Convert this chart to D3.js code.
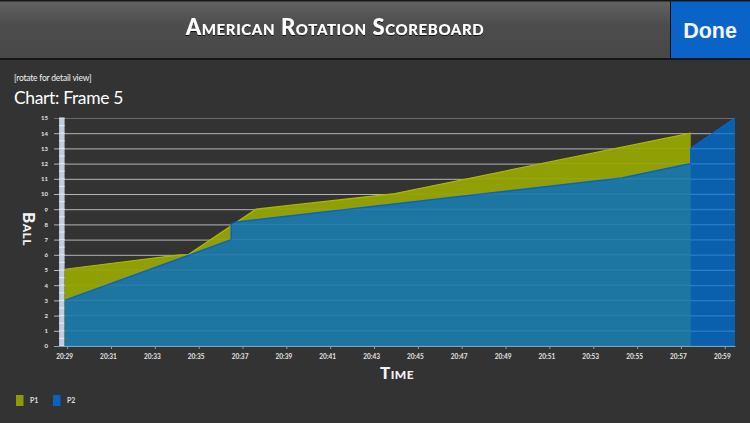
<!DOCTYPE html>
<html>
<head>
<meta charset="utf-8">
<script src="https://cdnjs.cloudflare.com/ajax/libs/d3/7.8.5/d3.min.js"></script>
<style>
    html, body { margin: 0; padding: 0; background: #333333; overflow: hidden; }
    svg { display: block; }
    text { font-family: Lato, sans-serif; fill: #f2f2f2; }
    .caps { font-variant: small-caps; font-weight: 900; }
</style>
</head>
<body>
<div id="wrapper"></div>
<script>
// data
const p1Times = ["20:28:53", "20:34:09", "20:34:31", "20:37:37", "20:43:57", "20:57:27"]
const p1Balls = [5.05, 6, 6, 9, 10.03, 14]

const p2Times = ["20:28:53", "20:34:37", "20:36:29", "20:36:29", "20:36:40", "20:54:18", "20:57:27", "20:57:27", "20:59:28"]
const p2Balls = [3, 6, 7, 8, 8.15, 11.05, 12, 13, 15]

const tickTimes = ["20:29", "20:31", "20:33", "20:35", "20:37", "20:39", "20:41", "20:43", "20:45",
    "20:47", "20:49", "20:51", "20:53", "20:55", "20:57", "20:59"]
const ballTicks = [0, 1, 2, 3, 4, 5, 6, 7, 8, 9, 10, 11, 12, 13, 14, 15]
const halfBalls = [0.5, 1.5, 2.5, 3.5, 4.5, 5.5, 6.5, 7.5, 8.5, 9.5, 10.5, 11.5, 12.5, 13.5, 14.5]
const timeDomain = ["20:28:24", "20:59:28"]
const stripTimes = ["20:28:38", "20:28:53"]
const players = ["P1", "P2"]

const parseTime = d3.timeParse("%H:%M:%S")
const zip = (times, balls) => times.map((t, i) => ({ time: parseTime(t), ball: balls[i] }))

const p1Data = zip(p1Times, p1Balls)
const p2Data = zip(p2Times, p2Balls)

const dimensions = {
    width: 750,
    height: 423,
    margin: { top: 118, right: 15, bottom: 77, left: 54 },
}
dimensions.boundedWidth = dimensions.width - dimensions.margin.left - dimensions.margin.right
dimensions.boundedHeight = dimensions.height - dimensions.margin.top - dimensions.margin.bottom

const wrapper = d3.select("#wrapper")
    .append("svg")
    .attr("width", dimensions.width)
    .attr("height", dimensions.height)

/* header */
const defs = wrapper.append("defs")
const headerGradient = defs.append("linearGradient")
    .attr("id", "headerGradient")
    .attr("x1", 0).attr("x2", 0).attr("y1", 0).attr("y2", 1)
headerGradient.append("stop").attr("offset", "0").attr("stop-color", "#626262")
headerGradient.append("stop").attr("offset", "0.4").attr("stop-color", "#4d4d4d")
headerGradient.append("stop").attr("offset", "1").attr("stop-color", "#484848")

const shadow = defs.append("filter").attr("id", "titleShadow")
shadow.append("feDropShadow")
    .attr("dx", 0).attr("dy", 1).attr("stdDeviation", 0.6)
    .attr("flood-color", "#000").attr("flood-opacity", 0.8)

wrapper.append("rect")
    .attr("width", 750).attr("height", 60)
    .attr("fill", "#161616")
wrapper.append("rect")
    .attr("x", 0).attr("y", 1.5)
    .attr("width", 670).attr("height", 56.5)
    .attr("fill", "url(#headerGradient)")
wrapper.append("rect")
    .attr("x", 671).attr("y", 1.5)
    .attr("width", 79).attr("height", 56.5)
    .attr("fill", "#0a64c8")

wrapper.append("text")
    .attr("class", "caps")
    .attr("x", 335).attr("y", 35)
    .attr("text-anchor", "middle")
    .attr("filter", "url(#titleShadow)")
    .style("font-size", "22px")
    .style("letter-spacing", "0.6px")
    .style("fill", "#ffffff")
    .text("American Rotation Scoreboard")

wrapper.append("text")
    .attr("x", 710).attr("y", 38)
    .attr("text-anchor", "middle")
    .style("font-family", "'Liberation Sans', sans-serif")
    .style("font-weight", 700)
    .style("font-size", "21.5px")
    .style("fill", "#f4f6fa")
    .text("Done")

wrapper.append("text")
    .attr("x", 14).attr("y", 81)
    .style("font-size", "8.5px")
    .style("letter-spacing", "-0.2px")
    .text("[rotate for detail view]")

wrapper.append("text")
    .attr("x", 14).attr("y", 104)
    .style("font-size", "17.5px")
    .style("letter-spacing", "-0.35px")
    .style("fill", "#ffffff")
    .text("Chart: Frame 5")

/* scales */
const bounds = wrapper.append("g")
    .attr("transform", `translate(${dimensions.margin.left}, ${dimensions.margin.top})`)

const xScale = d3.scaleTime()
    .domain(timeDomain.map(parseTime))
    .range([0, dimensions.boundedWidth])

const yScale = d3.scaleLinear()
    .domain([0, 15])
    .range([dimensions.boundedHeight, 0])

/* grid and y labels */
const yAxisGenerator = d3.axisLeft(yScale)
    .tickValues(ballTicks)
    .tickFormat(d3.format("d"))
    .tickSizeInner(-dimensions.boundedWidth)
    .tickSizeOuter(0)
    .tickPadding(6)

const yAxis = bounds.append("g").call(yAxisGenerator)
yAxis.select(".domain").remove()
yAxis.selectAll("line")
    .attr("stroke", d => d == 15 ? "#6a6a6a" : "#b4b4b4")
    .attr("stroke-width", 1)
yAxis.selectAll("text")
    .style("font-size", "6px")
    .style("font-weight", 700)
    .style("font-family", "Lato, sans-serif")
    .style("fill", "#e4e4e4")

/* strip on the left of the areas */
bounds.append("rect")
    .attr("x", xScale(parseTime(stripTimes[0])))
    .attr("y", yScale(15))
    .attr("width", xScale(parseTime(stripTimes[1])) - xScale(parseTime(stripTimes[0])))
    .attr("height", yScale(0) - yScale(15))
    .attr("fill", "#c2cee0")

bounds.selectAll(".stripMark")
    .data(ballTicks.concat(halfBalls))
    .enter().append("line")
    .attr("class", "stripMark")
    .attr("x1", xScale(parseTime(stripTimes[0])))
    .attr("x2", xScale(parseTime(stripTimes[1])))
    .attr("y1", d => yScale(d))
    .attr("y2", d => yScale(d))
    .attr("stroke", "#e6ebf3")

/* areas */
const areaGenerator = d3.area()
    .x(d => xScale(d.time))
    .y0(yScale(0))
    .y1(d => yScale(d.ball))

const lineGenerator = d3.line()
    .x(d => xScale(d.time))
    .y(d => yScale(d.ball))

bounds.append("path")
    .attr("d", areaGenerator(p1Data))
    .attr("fill", "#8f9f04")
bounds.append("path")
    .attr("d", lineGenerator(p1Data))
    .attr("fill", "none")
    .attr("stroke", "#a9b800")
    .attr("stroke-width", 1.2)

bounds.append("path")
    .attr("d", areaGenerator(p2Data))
    .attr("fill", "#006bcb")
    .attr("fill-opacity", 0.8)
bounds.append("path")
    .attr("d", lineGenerator(p2Data))
    .attr("fill", "none")
    .attr("stroke", "#0a62c4")
    .attr("stroke-width", 1.5)

/* the grid shows faintly through the areas */
const clip = defs.append("clipPath").attr("id", "areaClip")
clip.append("path").attr("d", areaGenerator(p1Data))
clip.append("path").attr("d", areaGenerator(p2Data))

bounds.append("g")
    .attr("clip-path", "url(#areaClip)")
    .selectAll("line")
    .data(ballTicks)
    .enter().append("line")
    .attr("x1", 0)
    .attr("x2", dimensions.boundedWidth)
    .attr("y1", d => yScale(d))
    .attr("y2", d => yScale(d))
    .attr("stroke", "#ffffff")
    .attr("stroke-opacity", 0.08)

/* x axis */
const xAxisGenerator = d3.axisBottom(xScale)
    .tickValues(tickTimes.map(t => parseTime(t + ":00")))
    .tickFormat(d3.timeFormat("%H:%M"))
    .tickSizeInner(3)
    .tickSizeOuter(0)
    .tickPadding(5)

const xAxis = bounds.append("g")
    .attr("transform", `translate(0, ${dimensions.boundedHeight})`)
    .call(xAxisGenerator)
xAxis.select(".domain")
    .attr("stroke", "#7fa3bd")
    .attr("stroke-width", 1)
xAxis.selectAll("line").attr("stroke", "#9a9a9a")
xAxis.selectAll("text")
    .attr("dx", -3)
    .style("font-size", "6.5px")
    .style("font-weight", 700)
    .style("font-family", "Lato, sans-serif")
    .style("fill", "#e4e4e4")

/* axis titles */
wrapper.append("text")
    .attr("class", "caps")
    .attr("transform", "translate(23, 229) rotate(90)")
    .attr("text-anchor", "middle")
    .style("font-size", "17px")
    .style("letter-spacing", "0.5px")
    .text("Ball")

wrapper.append("text")
    .attr("class", "caps")
    .attr("x", 397).attr("y", 379)
    .attr("text-anchor", "middle")
    .style("font-size", "17px")
    .style("letter-spacing", "0.5px")
    .text("Time")

/* legend */
const legendColors = d3.scaleOrdinal().domain(players).range(["#8a9a08", "#0a62bd"])
const legendX = d3.scalePoint().domain(players).range([16, 53])

const legend = wrapper.selectAll(".legend")
    .data(players)
    .enter().append("g")
    .attr("class", "legend")
    .attr("transform", d => `translate(${legendX(d)}, 395)`)
legend.append("rect")
    .attr("width", 7.5)
    .attr("height", 11)
    .attr("fill", d => legendColors(d))
legend.append("text")
    .attr("x", 14).attr("y", 7.5)
    .style("font-size", "7px")
    .style("font-weight", 700)
    .style("fill", "#dddddd")
    .text(d => d)
</script>
</body>
</html>
